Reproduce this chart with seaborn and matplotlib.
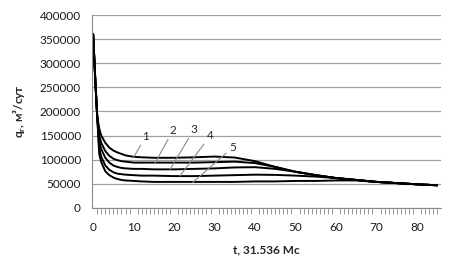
import numpy as np
import pandas as pd
import matplotlib
matplotlib.use('Agg')
import matplotlib.pyplot as plt
import seaborn as sns

# время, 31.536 Мс
t = [0, 0.5, 1, 1.5, 2, 3, 4, 5, 6, 7, 8, 10, 12, 15, 20, 25, 30, 35, 40, 45,
     50, 55, 60, 65, 70, 75, 80, 85]

# дебит газа, м3/сут, кривые 1..5
q1 = [360000, 270000, 190000, 165000, 150000, 135000, 125000, 119000, 115000, 112000,
      109000, 106000, 105000, 104000, 104000, 105000, 106500, 104500, 97000, 85000,
      75000, 68000, 62000, 58000, 54000, 51500, 49000, 47000]
q2 = [360000, 270000, 190000, 150000, 135000, 118000, 108000, 102000, 99000, 97000,
      96000, 94000, 94000, 94000, 94000, 94000, 95000, 96000, 93000, 85000,
      75000, 68000, 62000, 58000, 54000, 51500, 49000, 47000]
q3 = [360000, 270000, 190000, 138000, 122000, 104000, 94000, 88000, 85000, 83000,
      82000, 81000, 81000, 80000, 80000, 81000, 82000, 84000, 84500, 81000,
      75000, 68000, 62000, 58000, 54000, 51500, 49000, 47000]
q4 = [360000, 270000, 190000, 124000, 106000, 88000, 79000, 74000, 71000, 70000,
      69000, 68000, 67000, 67000, 66000, 66000, 67000, 68000, 69000, 68500,
      67000, 65000, 62000, 58000, 54000, 51500, 49000, 47000]
q5 = [360000, 270000, 190000, 112000, 95000, 76000, 68000, 63000, 60000, 58000,
      57000, 56000, 55000, 54000, 54000, 54000, 54000, 54000, 55000, 55000,
      56000, 56000, 57000, 57000, 54000, 51500, 49000, 47000]

curves = ['1', '2', '3', '4', '5']
# подписи: текст (t, q) и точка на кривой (t, q)
label_pos = [(13, 137000), (19.7, 149000), (24.9, 151000), (29, 139000), (34.5, 114000)]
label_tip = [(10, 105000), (15.3, 93000), (19, 80000), (21.4, 66000), (24.6, 53000)]

df = pd.DataFrame({'t': t * 5,
                   'q': q1 + q2 + q3 + q4 + q5,
                   'curve': sum([[c] * len(t) for c in curves], [])})

sns.set_style('white')
plt.rcParams['font.family'] = ['Lato', 'DejaVu Sans']

fig = plt.figure(figsize=(4.62, 2.78), dpi=100)
ax = fig.add_axes([0.199, 0.252, 0.756, 0.694])

sns.lineplot(data=df, x='t', y='q', units='curve', estimator=None,
             color='black', lw=1.4, ax=ax, legend=False)

for c, (tx, ty), (px, py) in zip(curves, label_pos, label_tip):
    ax.annotate(c, xy=(px, py), xytext=(tx, ty), fontsize=8.5,
                ha='center', va='bottom',
                arrowprops=dict(arrowstyle='-', color='#8a8a8a', lw=0.8,
                                shrinkA=0, shrinkB=0))

ax.set_xlim(-0.3, 86)
ax.set_ylim(0, 400000)
ax.set_yticks(np.arange(0, 400001, 50000))
ax.set_xticks(np.arange(0, 81, 10))
ax.set_xticks(np.arange(0, 86, 1), minor=True)
ax.yaxis.grid(True, color='#a0a0a0', lw=0.9)
ax.set_axisbelow(True)
for s in ['top', 'right']:
    ax.spines[s].set_visible(False)
ax.spines['left'].set_color('#8a8a8a')
ax.spines['bottom'].set_color('#8a8a8a')
ax.tick_params(axis='y', length=0, labelsize=8.5, pad=8, labelcolor='#1a1a1a')
ax.tick_params(axis='x', which='major', length=4, color='#8a8a8a', labelsize=8.5, pad=6,
               labelcolor='#1a1a1a')
ax.tick_params(axis='x', which='minor', length=4, color='#8a8a8a', bottom=True)
ax.set_xlabel('t, 31.536 Мс', fontsize=8.5, fontweight='bold', labelpad=8)
ax.set_ylabel(r'q$_{\mathregular{г}}$, м³/сут', fontsize=8.5, fontweight='bold', labelpad=8)

fig.savefig('out.png', dpi=100)
